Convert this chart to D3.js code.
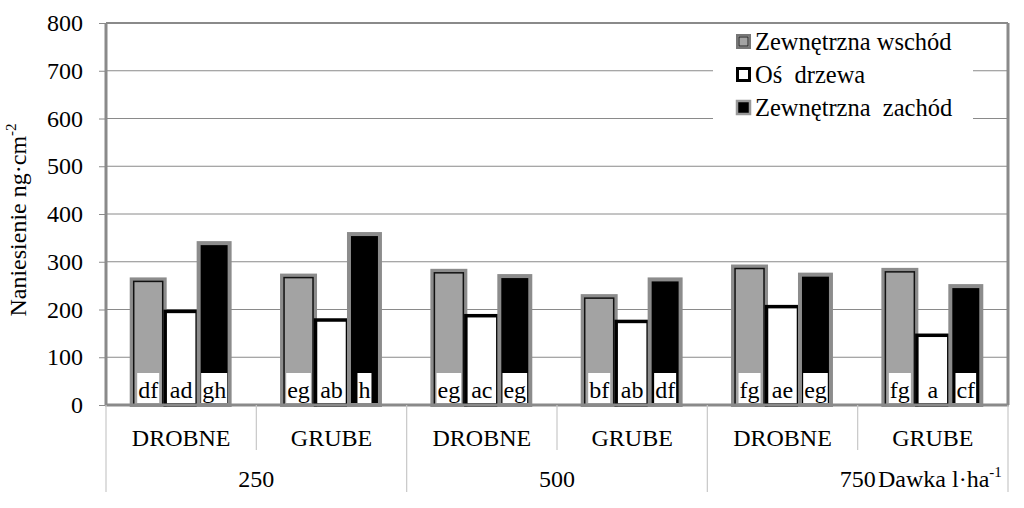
<!DOCTYPE html>
<html><head><meta charset="utf-8">
<script src="https://cdn.jsdelivr.net/npm/d3@7"></script>
<style>
body{margin:0;background:#fff;}
svg{display:block;font-family:"Liberation Serif","Times New Roman",serif;}
</style></head>
<body><svg id="c" width="1024" height="508"></svg>
<script>
const categories = ["DROBNE","GRUBE","DROBNE","GRUBE","DROBNE","GRUBE"];
const doses = ["250","500","750"];
const seriesNames = ["Zewnętrzna wschód","Oś  drzewa","Zewnętrzna  zachód"];
const eastValues = [263, 271, 281, 228, 290, 283];
const axisValues = [196, 178, 187, 175, 206, 146];
const westValues = [339, 358, 270, 263, 273, 249];
const eastLetters = ["df","eg","eg","bf","fg","fg"];
const axisLetters = ["ad","ab","ac","ab","ae","a"];
const westLetters = ["gh","h","eg","df","eg","cf"];
const yTicks = [0,100,200,300,400,500,600,700,800];

const svg = d3.select("#c");
const L = 106, R = 1008, T = 23, B = 405;
const keys = categories.map((c,i)=>i);
const x0 = d3.scaleBand().domain(keys).range([L,R]).paddingInner(0).paddingOuter(0);
const x1 = d3.scaleBand().domain([0,1,2]).range([0,x0.bandwidth()]).paddingInner(0).paddingOuter(0.78);
const y = d3.scaleLinear().domain([0,800]).range([B,T]);
const gridC = "#8a8a8a";

// gridlines
svg.append("g").selectAll("line").data(yTicks.filter(d=>d>0)).join("line")
  .attr("x1",L).attr("x2",R).attr("y1",d=>y(d)).attr("y2",d=>y(d))
  .attr("stroke",gridC).attr("stroke-width",1);

// y axis
const yAxis = svg.append("g").attr("transform",`translate(${L},0)`)
  .call(d3.axisLeft(y).tickValues(yTicks).tickSize(7).tickPadding(16));
yAxis.select(".domain").remove();
yAxis.attr("font-family","Liberation Serif").attr("font-size",24);
yAxis.selectAll(".tick line").attr("stroke",gridC).attr("stroke-width",1);
yAxis.selectAll(".tick text").attr("fill","#000");

const series = [
  {vals:eastValues, letters:eastLetters, type:"gray"},
  {vals:axisValues, letters:axisLetters, type:"white"},
  {vals:westValues, letters:westLetters, type:"black"}
];

// bars
const gBars = svg.append("g");
series.forEach((s,si)=>{
  s.vals.forEach((v,i)=>{
    const bx = x0(i)+x1(si), bw = x1.bandwidth(), by = y(v), bh = B - y(v);
    if(s.type==="gray"){
      gBars.append("rect").attr("x",bx).attr("y",by).attr("width",bw).attr("height",bh)
        .attr("fill","#a3a3a3").attr("stroke","#8c8c8c").attr("stroke-width",4);
      gBars.append("rect").attr("x",bx+2).attr("y",by+2).attr("width",bw-4).attr("height",bh-2)
        .attr("fill","#a3a3a3").attr("stroke","#111").attr("stroke-width",1.5);
    } else if(s.type==="white"){
      gBars.append("rect").attr("x",bx+0.5).attr("y",by).attr("width",bw-1).attr("height",bh)
        .attr("fill","#fff").attr("stroke","#000").attr("stroke-width",3.5);
    } else {
      gBars.append("rect").attr("x",bx+1).attr("y",by).attr("width",bw-2).attr("height",bh)
        .attr("fill","#000").attr("stroke","#8c8c8c").attr("stroke-width",4);
    }
  });
});

// letter labels with white boxes
const gLab = svg.append("g");
series.forEach((s,si)=>{
  s.letters.forEach((t,i)=>{
    const cx = x0(i)+x1(si)+x1.bandwidth()/2;
    const box = gLab.append("rect").attr("fill","#fff");
    const txt = gLab.append("text").attr("x",cx).attr("y",B-7).attr("text-anchor","middle")
      .attr("font-size",24).attr("fill","#000").text(t);
    const bb = txt.node().getBBox();
    box.attr("x",bb.x-1).attr("y",B-32).attr("width",bb.width+2).attr("height",30);
  });
});

// frame
svg.append("line").attr("x1",L).attr("x2",R).attr("y1",T).attr("y2",T).attr("stroke",gridC).attr("stroke-width",2);
svg.append("line").attr("x1",R).attr("x2",R).attr("y1",T).attr("y2",B).attr("stroke",gridC).attr("stroke-width",3);
svg.append("line").attr("x1",L).attr("x2",L).attr("y1",T).attr("y2",B+1).attr("stroke",gridC).attr("stroke-width",3);
svg.append("line").attr("x1",L-1).attr("x2",R+1).attr("y1",B).attr("y2",B).attr("stroke",gridC).attr("stroke-width",3);

// legend
const lg = svg.append("g");
lg.append("rect").attr("x",713).attr("y",T+2).attr("width",260).attr("height",103).attr("fill","#fff");
const legY = [42, 75, 108];
series.forEach((s,si)=>{
  const sy = legY[si];
  if(s.type==="gray"){
    lg.append("rect").attr("x",737).attr("y",sy-7).attr("width",13).attr("height",13).attr("fill","#a3a3a3").attr("stroke","#777").attr("stroke-width",2);
    lg.append("rect").attr("x",739).attr("y",sy-5).attr("width",9).attr("height",9).attr("fill","#a3a3a3").attr("stroke","#222").attr("stroke-width",1);
  } else if(s.type==="white"){
    lg.append("rect").attr("x",737.5).attr("y",sy-6.5).attr("width",12).attr("height",12).attr("fill","#fff").attr("stroke","#000").attr("stroke-width",3);
  } else {
    lg.append("rect").attr("x",737).attr("y",sy-7).attr("width",13).attr("height",13).attr("fill","#000").attr("stroke","#999").attr("stroke-width",2.5);
  }
  lg.append("text").attr("x",755).attr("y",sy+8).attr("font-size",24.5).attr("fill","#000")
    .style("white-space","pre").text(seriesNames[si]);
});

// x axis multi-level
const gx = svg.append("g");
keys.forEach(i=>{
  gx.append("text").attr("x",x0(i)+x0.bandwidth()/2).attr("y",446).attr("text-anchor","middle")
    .attr("font-size",24).attr("fill","#000").text(categories[i]);
});
const seps = d3.range(0,7).map(i=> i<6 ? x0(i) : R);
seps.forEach((sx,i)=>{
  const long = (i%2===0);
  gx.append("line").attr("x1",sx).attr("x2",sx).attr("y1",B).attr("y2",long?492:450)
    .attr("stroke","#c8c8c8").attr("stroke-width",1.2);
});
doses.forEach((d,k)=>{
  const cx = (x0(2*k) + x0(2*k+1)+x0.bandwidth())/2;
  gx.append("text").attr("x",cx).attr("y",487).attr("text-anchor","middle")
    .attr("font-size",24).attr("fill","#000").text(d);
});
const dt = gx.append("text").attr("x",878).attr("y",487).attr("font-size",24).attr("fill","#000");
dt.append("tspan").text("Dawka l·ha");
dt.append("tspan").attr("dy",-10).attr("font-size",15).text("-1");

// y label
const yl = svg.append("text").attr("transform","translate(26,220) rotate(-90)").attr("text-anchor","middle")
  .attr("font-size",24).attr("fill","#000");
yl.append("tspan").text("Naniesienie ng·cm");
yl.append("tspan").attr("dy",-10).attr("font-size",15).text("-2");
</script></body></html>
